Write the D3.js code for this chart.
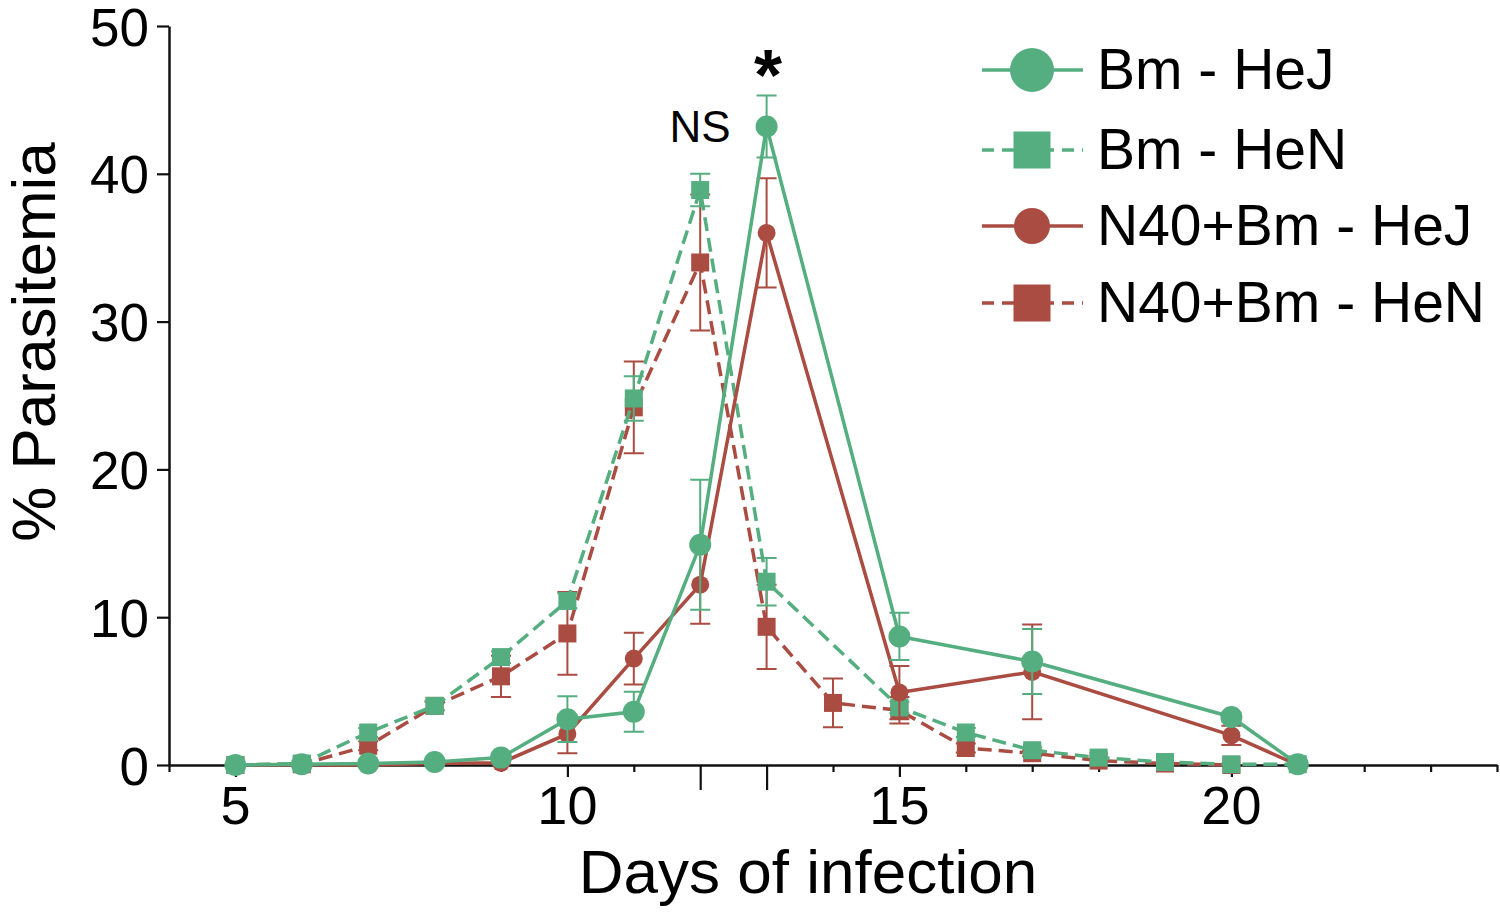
<!DOCTYPE html>
<html>
<head>
<meta charset="utf-8">
<script src="https://cdn.jsdelivr.net/npm/d3@7"></script>
<style>
  body { margin: 0; background: #fff; }
  svg { display: block; font-family: "Liberation Sans", Arial, Helvetica, sans-serif; }
</style>
</head>
<body>
<svg id="chart" width="1500" height="912"></svg>
<script>
// values (% parasitemia, mean and error)
const days_hej = [5, 6, 7, 8, 9, 10, 11, 12, 13, 15, 17, 20, 21];
const bm_hej = [0, 0.05, 0.1, 0.2, 0.5, 3.1, 3.6, 14.9, 43.2, 8.7, 7.0, 3.25, 0.05];
const bm_hej_err = [0, 0, 0, 0, 0, 1.55, 1.35, 4.4, 2.1, 1.6, 2.2, 0.3, 0];
const n40_hej = [0, 0, 0, 0.1, 0.15, 2.1, 7.2, 12.2, 36.0, 4.9, 6.3, 2.0, 0];
const n40_hej_err = [0, 0, 0, 0, 0.1, 1.3, 1.75, 2.65, 3.7, 1.8, 3.2, 0.65, 0];

const days_bm_hen = [5, 6, 7, 8, 9, 10, 11, 12, 13, 15, 16, 17, 18, 19, 20, 21];
const bm_hen = [0, 0.1, 2.2, 4.0, 7.3, 11.1, 24.8, 38.9, 12.4, 3.9, 2.2, 1.0, 0.5, 0.2, 0.05, 0.05];
const bm_hen_err = [0, 0, 0.3, 0.3, 0.4, 0.5, 1.5, 1.1, 1.6, 0.4, 0.3, 0.2, 0, 0, 0, 0];

const days_n40_hen = [5, 6, 7, 8, 9, 10, 11, 12, 13, 14, 15, 16, 17, 18, 19, 20];
const n40_hen = [0, 0.05, 1.3, 4.0, 6.0, 8.9, 24.2, 34.0, 9.35, 4.2, 3.7, 1.15, 0.8, 0.3, 0.1, 0];
const n40_hen_err = [0, 0, 0.3, 0.3, 1.4, 2.8, 3.1, 4.6, 2.85, 1.65, 0.9, 0.3, 0.2, 0, 0, 0];

const y_ticks = [0, 10, 20, 30, 40, 50];
const x_labels = [5, 10, 15, 20];
const long_ticks = [12, 13];

const green = "#55ae7f";
const red = "#aa4c42";

const series = [
    { name: "N40+Bm - HeN", days: days_n40_hen, vals: n40_hen, err: n40_hen_err, color: red, dash: true, shape: "square" },
    { name: "Bm - HeN", days: days_bm_hen, vals: bm_hen, err: bm_hen_err, color: green, dash: true, shape: "square" },
    { name: "N40+Bm - HeJ", days: days_hej, vals: n40_hej, err: n40_hej_err, color: red, dash: false, shape: "circle", r: 9 },
    { name: "Bm - HeJ", days: days_hej, vals: bm_hej, err: bm_hej_err, color: green, dash: false, shape: "circle", r: 11 }
];

let svg = d3.select("#chart");

let x = d3.scaleLinear().domain([4, 24]).range([169, 1497]);
let y = d3.scaleLinear().domain([0, 50]).range([765, 26]);

// x axis
let x_axis = svg.append("g")
    .attr("transform", `translate(0, ${y(0)})`)
    .call(d3.axisBottom(x).tickValues(d3.range(4, 25)).tickSizeOuter(0).tickFormat(""));

x_axis.select(".domain").attr("stroke", "#111").attr("stroke-width", 2.5);
x_axis.selectAll(".tick line")
    .attr("stroke", "#111")
    .attr("stroke-width", 2.2)
    .attr("y2", d => long_ticks.includes(d) ? 25 : (x_labels.includes(d) ? 12 : 7));

svg.append("g").selectAll("text")
    .data(x_labels)
    .enter()
    .append("text")
    .attr("x", d => x(d))
    .attr("y", 824)
    .attr("text-anchor", "middle")
    .style("font-size", "54px")
    .attr("fill", "#000")
    .text(d => d);

// y axis
let y_axis = svg.append("g")
    .attr("transform", `translate(${x(4)}, 0)`)
    .call(d3.axisLeft(y).tickValues(y_ticks).tickSize(12).tickSizeOuter(0).tickPadding(8));

y_axis.select(".domain").attr("stroke", "#111").attr("stroke-width", 2.5);
y_axis.selectAll(".tick line").attr("stroke", "#111").attr("stroke-width", 2.2);
y_axis.selectAll(".tick text")
    .style("font-size", "53px")
    .attr("fill", "#000")
    .attr("dy", "0.36em");

// axis titles
svg.append("text")
    .attr("x", 808)
    .attr("y", 893)
    .attr("text-anchor", "middle")
    .style("font-size", "62px")
    .text("Days of infection");

svg.append("text")
    .attr("transform", "translate(55, 342) rotate(-90)")
    .attr("text-anchor", "middle")
    .style("font-size", "62px")
    .text("% Parasitemia");

// series
let line = d3.line().x(d => x(d.day)).y(d => y(d.v));

series.forEach(s => {
    let pts = s.days.map((d, i) => ({ day: d, v: s.vals[i], e: s.err[i] }));
    let g = svg.append("g");

    let bars = pts.filter(p => p.e > 0);
    g.selectAll(".eb")
        .data(bars)
        .enter()
        .append("path")
        .attr("d", p => `M${x(p.day)},${y(p.v + p.e)}V${y(p.v - p.e)}`
            + `M${x(p.day) - 10},${y(p.v + p.e)}h20`
            + `M${x(p.day) - 10},${y(p.v - p.e)}h20`)
        .attr("fill", "none")
        .attr("stroke", s.color)
        .attr("stroke-width", 2);

    g.append("path")
        .datum(pts)
        .attr("d", line)
        .attr("fill", "none")
        .attr("stroke", s.color)
        .attr("stroke-width", 3.5)
        .attr("stroke-dasharray", s.dash ? "14,7" : null);

    if (s.shape === "square") {
        g.selectAll(".mk")
            .data(pts)
            .enter()
            .append("rect")
            .attr("x", p => x(p.day) - 9)
            .attr("y", p => y(p.v) - 9)
            .attr("width", 18)
            .attr("height", 18)
            .attr("fill", s.color);
    } else {
        g.selectAll(".mk")
            .data(pts)
            .enter()
            .append("circle")
            .attr("cx", p => x(p.day))
            .attr("cy", p => y(p.v))
            .attr("r", s.r)
            .attr("fill", s.color);
    }
});

// annotations
svg.append("text")
    .attr("x", 700)
    .attr("y", 142)
    .attr("text-anchor", "middle")
    .style("font-size", "44px")
    .text("NS");

svg.append("text")
    .attr("x", 768)
    .attr("y", 100)
    .attr("text-anchor", "middle")
    .style("font-size", "72px")
    .style("font-weight", "bold")
    .text("*");

// legend
let legend_rows = [
    { name: "Bm - HeJ", color: green, dash: false, shape: "circle", size: 22, cy: 70 },
    { name: "Bm - HeN", color: green, dash: true, shape: "square", size: 37, cy: 150 },
    { name: "N40+Bm - HeJ", color: red, dash: false, shape: "circle", size: 18, cy: 226 },
    { name: "N40+Bm - HeN", color: red, dash: true, shape: "square", size: 37, cy: 303 }
];

let legend = svg.append("g");
legend_rows.forEach(r => {
    legend.append("line")
        .attr("x1", 982).attr("x2", 1083)
        .attr("y1", r.cy).attr("y2", r.cy)
        .attr("stroke", r.color)
        .attr("stroke-width", 3.5)
        .attr("stroke-dasharray", r.dash ? "12,8" : null);
    if (r.shape === "circle") {
        legend.append("circle")
            .attr("cx", 1032).attr("cy", r.cy).attr("r", r.size)
            .attr("fill", r.color);
    } else {
        legend.append("rect")
            .attr("x", 1032 - r.size / 2).attr("y", r.cy - r.size / 2)
            .attr("width", r.size).attr("height", r.size)
            .attr("fill", r.color);
    }
    legend.append("text")
        .attr("x", 1097)
        .attr("y", r.cy + 19)
        .style("font-size", "57px")
        .text(r.name);
});
</script>
</body>
</html>
